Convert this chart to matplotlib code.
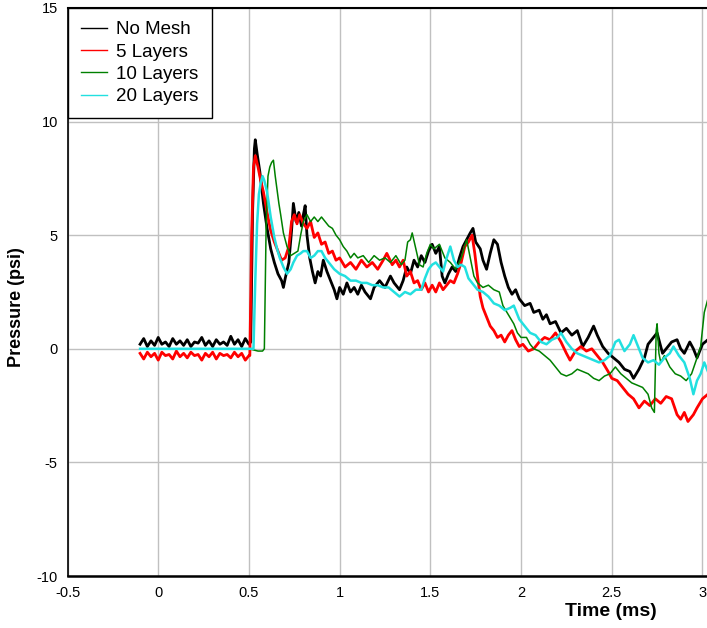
import matplotlib.pyplot as plt

# Datos (tiempo en ms, presion en psi)
base_t = [-0.1, -0.08, -0.06, -0.04, -0.02, 0.0, 0.02, 0.04, 0.06, 0.08,
          0.1, 0.12, 0.14, 0.16, 0.18, 0.2, 0.22, 0.24, 0.26, 0.28,
          0.3, 0.32, 0.34, 0.36, 0.38, 0.4, 0.42, 0.44, 0.46, 0.48, 0.5]

nomesh_base = [0.2, 0.45, 0.1, 0.35, 0.15, 0.5, 0.2, 0.3, 0.1, 0.45,
               0.2, 0.35, 0.15, 0.4, 0.1, 0.3, 0.25, 0.5, 0.15, 0.35,
               0.1, 0.4, 0.2, 0.3, 0.15, 0.55, 0.2, 0.4, 0.1, 0.45, 0.2]
nomesh_t = [0.51, 0.52, 0.53, 0.535, 0.545, 0.56, 0.58, 0.6, 0.62, 0.64,
            0.66, 0.68, 0.69, 0.7, 0.72, 0.735, 0.745, 0.76, 0.775, 0.79,
            0.8, 0.81, 0.82, 0.835, 0.85, 0.865, 0.88, 0.895, 0.91, 0.93,
            0.95, 0.97, 0.985, 1.0, 1.02, 1.04, 1.06, 1.08, 1.1, 1.12,
            1.14, 1.17, 1.19, 1.22, 1.25, 1.28, 1.3, 1.33, 1.35, 1.37,
            1.39, 1.41, 1.43, 1.45, 1.47, 1.49, 1.51, 1.53, 1.55, 1.565,
            1.58, 1.6, 1.62, 1.64, 1.66, 1.68, 1.7, 1.72, 1.735, 1.75,
            1.775, 1.79, 1.81, 1.83, 1.85, 1.87, 1.89, 1.91, 1.93, 1.95,
            1.97, 1.99, 2.02, 2.05, 2.07, 2.1, 2.12, 2.14, 2.16, 2.19,
            2.22, 2.25, 2.28, 2.31, 2.34, 2.37, 2.4, 2.42, 2.45, 2.48,
            2.51, 2.54, 2.57, 2.6, 2.62, 2.65, 2.68, 2.7, 2.73, 2.75,
            2.78, 2.8, 2.83, 2.86, 2.88, 2.9, 2.93, 2.95, 2.97, 3.0, 3.03]
nomesh_p = [0.3, 6.0, 8.8, 9.2, 8.6, 7.8, 6.4, 5.3, 4.4, 3.8,
            3.3, 3.0, 2.7, 3.1, 3.8, 5.2, 6.4, 5.6, 6.0, 5.4,
            5.9, 6.3, 5.0, 4.0, 3.4, 2.9, 3.4, 3.2, 3.9, 3.4,
            3.0, 2.6, 2.2, 2.7, 2.4, 2.9, 2.5, 2.7, 2.4, 2.8,
            2.5, 2.2, 2.7, 3.0, 2.7, 3.2, 2.9, 2.6, 3.0, 3.6,
            3.3, 3.9, 3.6, 4.1, 3.8, 4.3, 4.6, 4.2, 4.5, 3.2,
            2.9, 3.3, 3.6, 3.4, 4.0, 4.5, 4.8, 5.1, 5.3, 4.7,
            4.4, 3.9, 3.5, 4.2, 4.8, 4.6, 3.8, 3.2, 2.7, 2.4,
            2.6, 2.2, 1.9, 2.0, 1.6, 1.7, 1.3, 1.5, 1.1, 1.2,
            0.7, 0.9, 0.6, 0.8, 0.1, 0.5, 1.0, 0.6, 0.1, -0.2,
            -0.4, -0.6, -0.9, -1.0, -1.3, -0.9, -0.4, 0.2, 0.5, 0.7,
            -0.2, 0.0, 0.3, 0.4, 0.0, -0.2, 0.3, 0.0, -0.4, 0.2, 0.4]

layers5_base = [-0.2, -0.45, -0.15, -0.35, -0.2, -0.5, -0.15, -0.3, -0.25, -0.45,
                -0.1, -0.35, -0.2, -0.4, -0.15, -0.3, -0.25, -0.5, -0.2, -0.35,
                -0.15, -0.45, -0.2, -0.3, -0.25, -0.4, -0.15, -0.35, -0.2, -0.5, -0.3]
layers5_t = [0.505, 0.515, 0.525, 0.535, 0.55, 0.565, 0.58, 0.6, 0.62, 0.64,
             0.66, 0.68, 0.7, 0.72, 0.735, 0.75, 0.765, 0.78, 0.8, 0.82,
             0.84, 0.86, 0.88, 0.9, 0.92, 0.94, 0.96, 0.98, 1.0, 1.03,
             1.06, 1.09, 1.12, 1.15, 1.18, 1.21, 1.24, 1.26, 1.29, 1.31,
             1.33, 1.35, 1.37, 1.39, 1.41, 1.43, 1.45, 1.47, 1.49, 1.51,
             1.53, 1.55, 1.57, 1.59, 1.61, 1.63, 1.65, 1.67, 1.69, 1.71,
             1.73, 1.745, 1.76, 1.775, 1.79, 1.81, 1.83, 1.85, 1.87, 1.89,
             1.91, 1.93, 1.95, 1.97, 1.99, 2.01, 2.04, 2.07, 2.1, 2.13,
             2.16, 2.19, 2.22, 2.25, 2.27, 2.3, 2.33, 2.36, 2.39, 2.42,
             2.45, 2.48, 2.5, 2.53, 2.56, 2.59, 2.62, 2.65, 2.68, 2.71,
             2.74, 2.77, 2.8, 2.83, 2.86, 2.88, 2.9, 2.92, 2.95, 2.97, 3.0, 3.03]
layers5_p = [-0.3, 5.0, 8.0, 8.5, 8.0, 7.4, 6.9, 6.0, 5.2, 4.7,
             4.3, 3.9, 4.0, 4.5, 5.6, 5.9, 5.5, 5.9, 5.5, 5.3,
             5.6, 4.9, 5.1, 4.6, 4.7, 4.2, 4.3, 3.9, 4.0, 3.6,
             3.8, 3.5, 3.9, 3.6, 3.8, 3.5, 3.9, 4.2, 3.7, 3.9,
             3.6, 3.9, 3.2, 3.4, 2.9, 3.0, 2.6, 2.9, 2.5, 2.8,
             2.5, 2.9, 2.6, 2.8, 3.0, 2.9, 3.3, 3.8, 4.5, 4.7,
             5.0, 4.2, 3.2, 2.3, 1.8, 1.4, 1.0, 0.8, 0.5, 0.6,
             0.3, 0.6, 0.8, 0.4, 0.1, 0.2, -0.1, 0.0, 0.3, 0.5,
             0.4, 0.7, 0.3, -0.2, -0.5, -0.1, 0.1, -0.1, 0.0, -0.3,
             -0.6, -1.0, -1.3, -1.4, -1.7, -2.0, -2.2, -2.6, -2.3, -2.5,
             -2.2, -2.4, -2.1, -2.2, -2.9, -3.1, -2.8, -3.2, -2.9, -2.6, -2.2, -2.0]

layers10_t = [-0.1, 0.0, 0.1, 0.2, 0.3, 0.4, 0.5, 0.55, 0.575, 0.585,
              0.595, 0.605, 0.615, 0.625, 0.635, 0.645, 0.655, 0.665, 0.675, 0.69,
              0.71, 0.73, 0.75, 0.77, 0.785, 0.8, 0.82, 0.84, 0.86, 0.88,
              0.9, 0.92, 0.94, 0.96, 0.98, 1.0, 1.02, 1.04, 1.06, 1.08,
              1.1, 1.13, 1.16, 1.19, 1.22, 1.25, 1.28, 1.31, 1.34, 1.36,
              1.375, 1.39, 1.4, 1.42, 1.44, 1.46, 1.48, 1.5, 1.52, 1.55,
              1.58, 1.61, 1.64, 1.67, 1.7, 1.72, 1.74, 1.76, 1.79, 1.82,
              1.85, 1.88, 1.9, 1.93, 1.96, 1.98, 2.0, 2.03, 2.05, 2.07,
              2.1, 2.13, 2.16, 2.19, 2.22, 2.25, 2.28, 2.31, 2.34, 2.37,
              2.4, 2.43, 2.46, 2.49, 2.52, 2.55, 2.58, 2.61, 2.64, 2.67,
              2.7, 2.72, 2.735, 2.745, 2.75, 2.76, 2.77, 2.79, 2.82, 2.85,
              2.88, 2.91, 2.94, 2.97, 2.99, 3.01, 3.03]
layers10_p = [0.0, 0.0, 0.0, 0.0, 0.0, 0.0, 0.0, -0.1, -0.1, 0.0,
              5.5, 7.6, 8.0, 8.2, 8.3, 7.6, 7.0, 6.4, 5.9, 5.1,
              4.5, 4.1, 4.2, 4.3, 5.0, 5.6, 5.9, 5.6, 5.8, 5.6,
              5.8, 5.6, 5.4, 5.3, 5.0, 4.8, 4.5, 4.3, 4.0, 4.2,
              4.0, 4.1, 3.8, 4.1, 3.9, 4.0, 3.8, 4.1, 3.7, 3.9,
              4.7, 4.8, 5.1, 4.4, 3.7, 3.6, 4.2, 4.6, 4.4, 4.6,
              4.0, 3.8, 3.5, 4.0, 4.8, 4.0, 3.2, 2.9, 2.7, 2.8,
              2.6, 2.5, 1.9, 1.5, 1.1, 0.7, 0.5, 0.5, 0.2, 0.0,
              -0.1, -0.3, -0.5, -0.8, -1.1, -1.2, -1.1, -0.9, -1.0, -1.1,
              -1.3, -1.4, -1.2, -1.1, -0.8, -1.1, -1.3, -1.5, -1.6, -1.7,
              -2.0, -2.6, -2.8, 0.8, 1.1, -0.2, -0.6, -0.3, -0.8, -1.1,
              -1.2, -1.4, -1.1, -0.4, 0.1, 1.6, 2.2]

layers20_t = [-0.1, 0.0, 0.1, 0.2, 0.3, 0.4, 0.5, 0.525, 0.535, 0.545,
              0.555, 0.565, 0.575, 0.585, 0.6, 0.62, 0.64, 0.655, 0.67, 0.69,
              0.71, 0.73, 0.745, 0.765, 0.785, 0.8, 0.82, 0.84, 0.86, 0.88,
              0.9, 0.92, 0.94, 0.97, 1.0, 1.03, 1.06, 1.09, 1.12, 1.15,
              1.18, 1.21, 1.24, 1.27, 1.3, 1.33, 1.36, 1.39, 1.42, 1.45,
              1.47, 1.49, 1.51, 1.53, 1.55, 1.57, 1.59, 1.61, 1.63, 1.65,
              1.67, 1.69, 1.71, 1.73, 1.76, 1.79, 1.82, 1.85, 1.88, 1.91,
              1.94, 1.96, 1.99, 2.02, 2.05, 2.08, 2.11, 2.14, 2.17, 2.2,
              2.22, 2.25, 2.28, 2.31, 2.34, 2.37, 2.4, 2.43, 2.46, 2.49,
              2.52, 2.54, 2.57, 2.6, 2.62, 2.64, 2.67, 2.7, 2.73, 2.76,
              2.79, 2.82, 2.84, 2.87, 2.9, 2.93, 2.95, 2.97, 2.99, 3.01, 3.03]
layers20_p = [0.0, 0.0, 0.0, 0.0, 0.0, 0.0, 0.0, 0.0, 3.0, 5.5,
              6.8, 7.3, 7.6, 7.4, 6.9, 5.8, 4.9, 4.4, 4.0, 3.6,
              3.3, 3.5, 3.8, 4.1, 4.2, 4.3, 4.3, 4.0, 4.1, 4.3,
              4.3, 4.0, 3.8, 3.5, 3.3, 3.2, 3.0, 3.0, 2.9, 2.9,
              2.8, 2.8, 2.7, 2.7, 2.5, 2.3, 2.5, 2.4, 2.6, 2.6,
              3.1, 3.5, 3.7, 3.8, 3.6, 3.4, 4.0, 4.5, 3.9, 3.6,
              3.7, 3.6, 3.1, 2.9, 2.6, 2.5, 2.3, 2.0, 1.9, 1.7,
              1.8, 1.9, 1.3, 1.0, 0.7, 0.6, 0.3, 0.2, 0.4, 0.5,
              0.7, 0.3, 0.0, -0.2, -0.3, -0.4, -0.5, -0.6, -0.5, -0.3,
              0.3, 0.4, -0.1, 0.2, 0.6, 0.2, -0.4, -0.6, -0.5, -0.7,
              -0.4, -0.2, 0.1, -0.3, -0.6, -1.3, -2.0, -1.4, -1.1, -0.6, -1.0]

labels = ["No Mesh", "5 Layers", "10 Layers", "20 Layers"]
colors = ["#000000", "#ff0000", "#008000", "#22e0e0"]

plt.rcParams['font.family'] = ['Liberation Sans', 'DejaVu Sans']
plt.rcParams['axes.unicode_minus'] = False

fig = plt.figure(figsize=(7.07, 6.28), dpi=100)
ax = fig.add_axes([0.0955, 0.0828, 0.9045, 0.9045])

ax.plot(base_t + nomesh_t, nomesh_base + nomesh_p, color=colors[0], lw=2.0, label=labels[0])
ax.plot(base_t + layers5_t, layers5_base + layers5_p, color=colors[1], lw=2.0, label=labels[1])
ax.plot(layers10_t, layers10_p, color=colors[2], lw=1.1, label=labels[2])
ax.plot(layers20_t, layers20_p, color=colors[3], lw=1.8, label=labels[3])

ax.set_xlim(-0.5, 3.025)
ax.set_ylim(-10, 15)
ax.set_xticks([-0.5, 0, 0.5, 1, 1.5, 2, 2.5, 3])
ax.set_xticklabels(["-0.5", "0", "0.5", "1", "1.5", "2", "2.5", "3"])
ax.set_yticks([-10, -5, 0, 5, 10, 15])
ax.grid(True, color="#c0c0c0", lw=1)
ax.set_axisbelow(True)
ax.tick_params(length=0, pad=7, labelsize=10.5)
for s in ["left", "top", "bottom"]:
    ax.spines[s].set_color("black")
ax.spines["left"].set_linewidth(1.2)
ax.spines["top"].set_linewidth(1.5)
ax.spines["bottom"].set_linewidth(1.8)
ax.spines["right"].set_visible(False)

leg = ax.legend(loc="upper left", bbox_to_anchor=(0, 1), borderaxespad=0,
                fontsize=13.5, frameon=True, fancybox=False, framealpha=1,
                edgecolor="black", handlelength=1.4, handletextpad=0.5,
                labelspacing=0.28, borderpad=0.7)
leg.get_frame().set_linewidth(1.0)
for line in leg.get_lines():
    line.set_linewidth(1.0)

fig.text(17 / 707, 1 - 307 / 628, "Pressure (psi)", rotation=90, fontsize=13,
         fontweight="bold", ha="center", va="center")
fig.text(611 / 707, 1 - 611 / 628, "Time (ms)", fontsize=14,
         fontweight="bold", ha="center", va="center")

fig.savefig("out.png", dpi=100)
